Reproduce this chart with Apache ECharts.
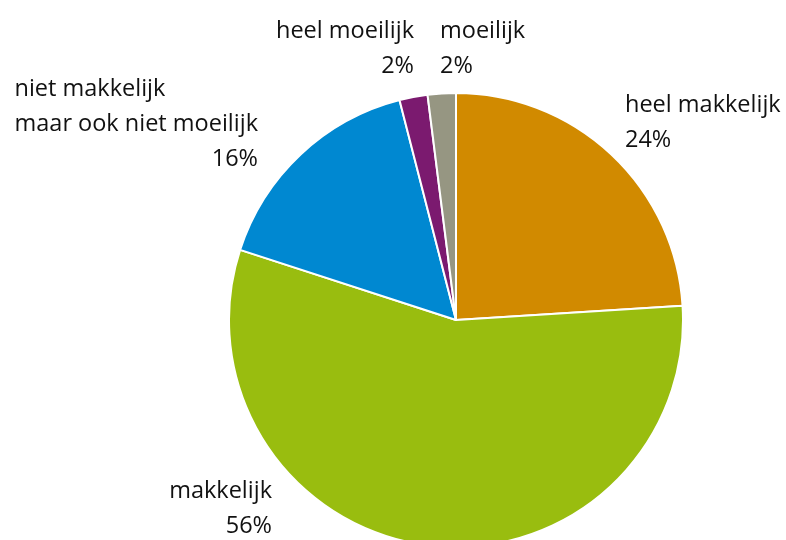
<!DOCTYPE html>
<html>
<head>
<meta charset="utf-8">
<script src="https://cdn.jsdelivr.net/npm/echarts@6/dist/echarts.min.js"></script>
<style>html,body{margin:0;padding:0;background:#fff}#c{width:786px;height:540px}</style>
</head>
<body>
<div id="c"></div>
<script>
const categories = ['heel makkelijk', 'makkelijk', 'niet makkelijk\nmaar ook niet moeilijk', 'heel moeilijk', 'moeilijk'];
const values = [24, 56, 16, 2, 2];
const colors = ['#d18a00', '#99bd0f', '#0088d1', '#7b1a6f', '#969682'];
// label anchor layout (x, y of block top, alignment)
const labelLayouts = [
  {x: 625, y: 88, align: 'left'},
  {x: 272, y: 474, align: 'right'},
  {x: 258, y: 72, align: 'right'},
  {x: 414, y: 14, align: 'right'},
  {x: 440, y: 14, align: 'left'}
];

const chart = echarts.init(document.getElementById('c'), null, {renderer: 'canvas'});
const FONT = 'Open Sans';
const FS = 23.5;
chart.setOption({
  animation: false,
  series: [{
    type: 'pie',
    center: [456, 320],
    radius: [0, 227],
    startAngle: 90,
    clockwise: true,
    avoidLabelOverlap: false,
    itemStyle: {borderColor: '#fff', borderWidth: 2},
    labelLine: {show: false},
    label: {
      show: true,
      position: 'outside',
      fontFamily: FONT,
      fontSize: FS,
      color: '#111',
      lineHeight: 35,
      formatter: function (p) {
        const lines = p.name.split('\n');
        if (lines.length > 1) {
          return '{l|' + lines[0] + '}\n{m|' + lines[1] + '}\n{r|' + p.value + '%}';
        }
        const al = labelLayouts[p.dataIndex].align === 'left' ? 'l' : 'r';
        return '{' + al + '|' + p.name + '}\n{' + al + '|' + p.value + '%}';
      },
      rich: {
        l: {fontFamily: FONT, fontSize: FS, lineHeight: 35, color: '#111', align: 'left'},
        m: {fontFamily: FONT, fontSize: FS, lineHeight: 35, color: '#111'},
        r: {fontFamily: FONT, fontSize: FS, lineHeight: 35, color: '#111', align: 'right'}
      }
    },
    labelLayout: function (params) {
      const L = labelLayouts[params.dataIndex];
      return {x: L.x, y: L.y, align: L.align, verticalAlign: 'top', hideOverlap: false};
    },
    data: categories.map((c, i) => ({name: c, value: values[i], itemStyle: {color: colors[i]}}))
  }]
});
</script>
</body>
</html>
